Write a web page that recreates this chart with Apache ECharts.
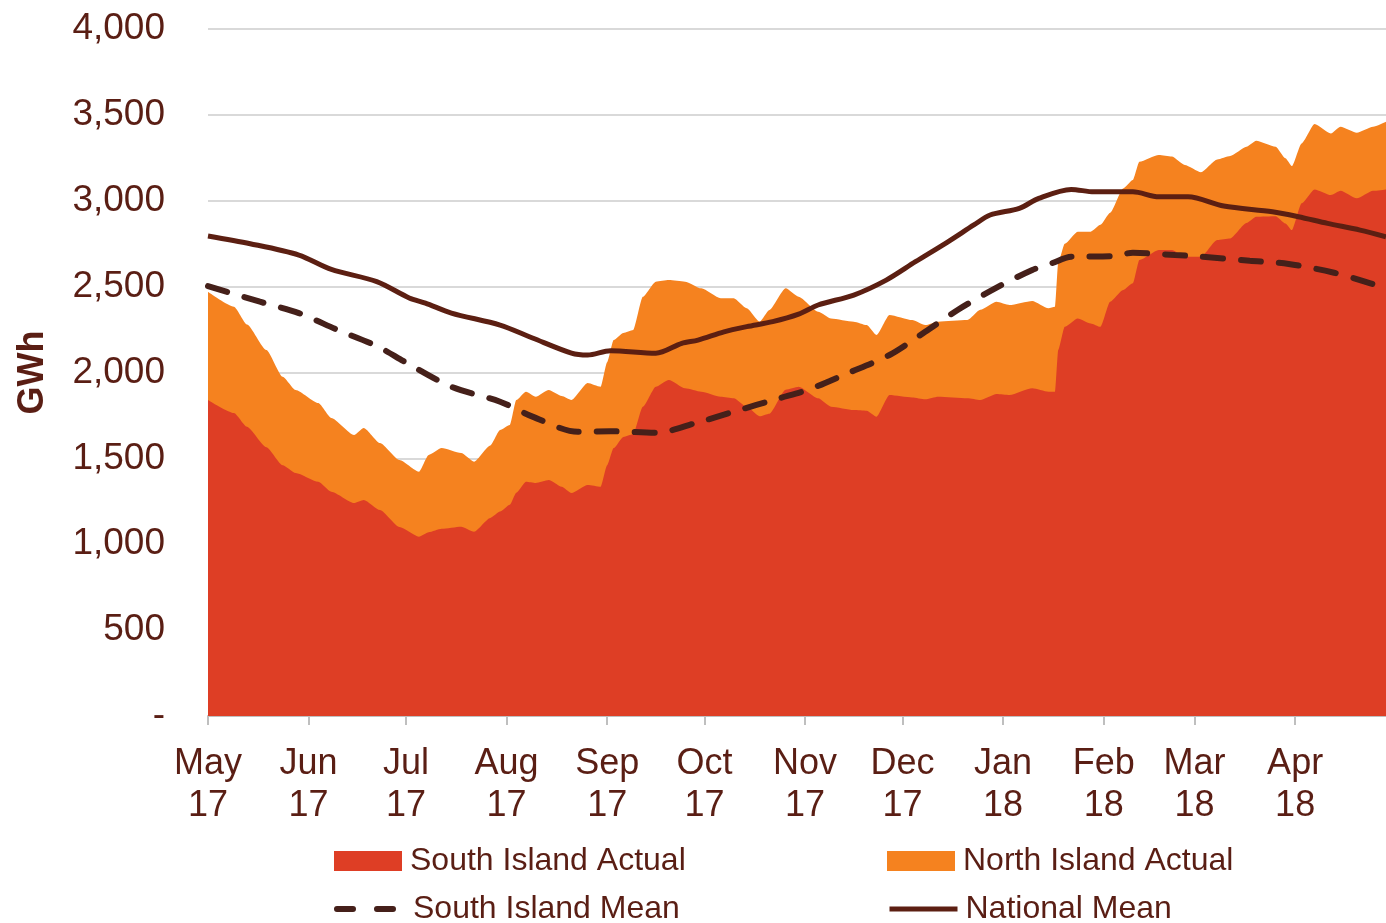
<!DOCTYPE html>
<html>
<head>
<meta charset="utf-8">
<script src="https://cdn.jsdelivr.net/npm/echarts@6/dist/echarts.min.js"></script>
<style>
  html, body { margin: 0; padding: 0; background: #fff; }
  #chart { width: 1386px; height: 923px; }
</style>
</head>
<body>
<div id="chart"></div>
<script>
// storage readings, GWh
const actualDates = [
  '2017-05-01','2017-05-09','2017-05-13','2017-05-19','2017-05-24','2017-05-28',
  '2017-06-04','2017-06-08','2017-06-15','2017-06-18','2017-06-23','2017-06-29',
  '2017-07-05','2017-07-08','2017-07-12','2017-07-18','2017-07-22','2017-07-27','2017-07-30',
  '2017-08-02','2017-08-04','2017-08-07','2017-08-10','2017-08-14','2017-08-18','2017-08-21','2017-08-26','2017-08-30',
  '2017-09-01','2017-09-03','2017-09-06','2017-09-09','2017-09-12','2017-09-16','2017-09-20','2017-09-25','2017-09-30',
  '2017-10-06','2017-10-10','2017-10-14','2017-10-18','2017-10-21','2017-10-26','2017-10-30',
  '2017-11-05','2017-11-09','2017-11-16','2017-11-20','2017-11-23','2017-11-27',
  '2017-12-04','2017-12-08','2017-12-12','2017-12-21','2017-12-25','2017-12-30',
  '2018-01-03','2018-01-10','2018-01-15','2018-01-17','2018-01-18','2018-01-20','2018-01-24','2018-01-28','2018-01-31',
  '2018-02-03','2018-02-07','2018-02-10','2018-02-12','2018-02-18','2018-02-22','2018-02-26',
  '2018-03-03','2018-03-08','2018-03-12','2018-03-17','2018-03-20','2018-03-26','2018-03-29','2018-03-31',
  '2018-04-03','2018-04-07','2018-04-12','2018-04-15','2018-04-20','2018-04-25','2018-04-29'
];
const southActual = [
  1840, 1764, 1684, 1565, 1460, 1415,
  1364, 1306, 1240, 1258, 1199, 1100,
  1044, 1070, 1090, 1102, 1073, 1153, 1190,
  1230, 1300, 1364, 1357, 1374, 1335, 1298, 1345, 1335,
  1460, 1560, 1625, 1640, 1800, 1917, 1956, 1908, 1888,
  1859, 1850, 1800, 1745, 1760, 1900, 1917,
  1850, 1801, 1782, 1778, 1743, 1869,
  1855, 1844, 1859, 1850, 1840, 1875,
  1869, 1908, 1888, 1888, 2131, 2266, 2315, 2286, 2266,
  2412, 2480, 2519, 2655, 2713, 2713, 2674,
  2674, 2771, 2780, 2870, 2907, 2910, 2868, 2829,
  2985, 3066, 3033, 3058, 3014, 3058, 3066
];
const northActual = [
  630, 619, 596, 566, 515, 483,
  458, 429, 396, 419, 390, 390,
  378, 450, 470, 429, 408, 422, 475,
  464, 540, 524, 502, 524, 528, 542, 594, 582,
  600, 629, 605, 607, 641, 612, 582, 621, 602,
  573, 582, 574, 551, 604, 590, 524,
  504, 514, 514, 498, 475, 466,
  450, 432, 437, 455, 525, 537,
  524, 509, 486, 495, 509, 484, 505, 534, 594,
  518, 592, 602, 572, 553, 544, 534,
  492, 469, 480, 444, 442, 404, 379, 373,
  349, 381, 359, 373, 382, 373, 394
];
const southMeanDates = [
  '2017-05-01','2017-05-17','2017-05-29','2017-06-10','2017-06-22','2017-07-01','2017-07-15',
  '2017-07-30','2017-08-09','2017-08-23','2017-09-02','2017-09-16','2017-09-28','2017-10-10',
  '2017-10-24','2017-11-02','2017-11-14','2017-11-27','2017-12-08','2017-12-18','2017-12-30',
  '2018-01-10','2018-01-16','2018-01-22','2018-02-04','2018-02-10','2018-02-23','2018-03-02',
  '2018-03-18','2018-03-30','2018-04-13','2018-04-21','2018-04-29'
];
const southMean = [
  2503, 2412, 2346, 2247, 2154, 2058, 1917,
  1830, 1743, 1655, 1658, 1649, 1704, 1772,
  1850, 1900, 1995, 2102, 2237, 2364, 2494,
  2597, 2636, 2674, 2678, 2697, 2684, 2676,
  2651, 2632, 2581, 2538, 2490
];
const nationalMeanDates = [
  '2017-05-01','2017-05-14','2017-05-29','2017-06-08','2017-06-22','2017-07-02','2017-07-07','2017-07-15',
  '2017-07-30','2017-08-09','2017-08-21','2017-08-26','2017-09-02','2017-09-16','2017-09-24','2017-09-29',
  '2017-10-07','2017-10-14','2017-10-22','2017-10-30','2017-11-05','2017-11-16','2017-11-26','2017-12-05',
  '2017-12-15','2017-12-23','2017-12-28','2018-01-06','2018-01-12','2018-01-22','2018-01-29','2018-02-10',
  '2018-02-18','2018-02-27','2018-03-10','2018-03-25','2018-04-02','2018-04-11','2018-04-21','2018-04-29'
];
const nationalMean = [
  2795, 2750, 2684, 2600, 2529, 2434, 2404, 2346,
  2276, 2201, 2113, 2102, 2127, 2112, 2170, 2189,
  2237, 2267, 2296, 2340, 2393, 2451, 2538, 2645,
  2761, 2859, 2917, 2956, 3014, 3066, 3052, 3052,
  3023, 3023, 2969, 2936, 2907, 2868, 2829, 2790
];
const monthLabels = ['May\n17','Jun\n17','Jul\n17','Aug\n17','Sep\n17','Oct\n17',
  'Nov\n17','Dec\n17','Jan\n18','Feb\n18','Mar\n18','Apr\n18'];

// x axis runs in days counted from 1 May 2017
const START = Date.UTC(2017, 4, 1);
const dayOf = (s) => Math.round((Date.parse(s + 'T00:00:00Z') - START) / 86400000);
const monthTicks = [];
for (let i = 0; i < 12; i++) {
  monthTicks.push(Math.round((Date.UTC(2017, 4 + i, 1) - START) / 86400000));
}
const pairs = (dates, vals) => dates.map((d, i) => [dayOf(d), vals[i]]);
// north island sits on top of the south island area
const totalActual = southActual.map((v, i) => v + northActual[i]);

const textColor = '#5a1e14';
const legendText = { color: textColor, fontSize: 32, fontFamily: 'Liberation Sans', lineHeight: 36, padding: [0, 0, 0, 3] };

function legendItem(name, left, top, extra) {
  return {
    left: left, top: top, padding: 0, itemWidth: 68, itemHeight: 20, itemGap: 0,
    textStyle: legendText,
    data: [Object.assign({ name: name }, extra || {})]
  };
}

var chart = echarts.init(document.getElementById('chart'));
var option = {
  animation: false,
  grid: { left: 208, right: 0, top: 29, bottom: 207 },
  legend: [
    legendItem('South Island Actual', 334, 843, { icon: 'rect' }),
    legendItem('North Island Actual', 887, 843, { icon: 'rect' }),
    legendItem('South Island Mean', 334, 891, { itemStyle: { opacity: 0 }, lineStyle: { width: 6, type: [16, 24], cap: 'round' } }),
    legendItem('National Mean', 887, 891, { itemStyle: { opacity: 0 }, lineStyle: { width: 5 } })
  ],
  xAxis: {
    type: 'value',
    min: 0,
    max: 363,
    axisLine: { lineStyle: { color: '#bfbfbf', width: 2 } },
    axisTick: { show: true, length: 9, lineStyle: { color: '#bfbfbf', width: 2 }, customValues: monthTicks },
    splitLine: { show: false },
    axisLabel: {
      customValues: monthTicks,
      color: textColor, fontSize: 36, fontFamily: 'Liberation Sans', lineHeight: 42, margin: 27,
      formatter: function (v) {
        var i = monthTicks.indexOf(v);
        return i >= 0 ? monthLabels[i] : '';
      }
    }
  },
  yAxis: {
    type: 'value',
    min: 0, max: 4000, interval: 500,
    name: 'GWh', nameLocation: 'middle', nameGap: 157, nameRotate: 90,
    nameTextStyle: { color: textColor, fontSize: 36, fontWeight: 'bold', fontFamily: 'Liberation Sans' },
    axisLine: { show: false },
    axisTick: { show: false },
    splitLine: { lineStyle: { color: '#d9d9d9', width: 2 } },
    axisLabel: {
      color: textColor, fontSize: 37, fontFamily: 'Liberation Sans', margin: 43,
      formatter: function (v) { return v === 0 ? '-' : v.toLocaleString('en-US'); }
    }
  },
  series: [
    {
      name: 'North Island Actual', type: 'line',
      data: pairs(actualDates, totalActual),
      symbol: 'none', smooth: 0.2, smoothMonotone: 'x', lineStyle: { width: 0 },
      itemStyle: { color: '#f5821f' },
      areaStyle: { color: '#f5821f', opacity: 1 }
    },
    {
      name: 'South Island Actual', type: 'line',
      data: pairs(actualDates, southActual),
      symbol: 'none', smooth: 0.2, smoothMonotone: 'x', lineStyle: { width: 0 },
      itemStyle: { color: '#de3e25' },
      areaStyle: { color: '#de3e25', opacity: 1 }
    },
    {
      name: 'South Island Mean', type: 'line',
      data: pairs(southMeanDates, southMean),
      symbol: 'none', smooth: 0.3,
      itemStyle: { color: '#45201a' },
      lineStyle: { color: '#45201a', width: 6, type: [20, 18], cap: 'round' }
    },
    {
      name: 'National Mean', type: 'line',
      data: pairs(nationalMeanDates, nationalMean),
      symbol: 'none', smooth: 0.3,
      itemStyle: { color: '#5c1f12' },
      lineStyle: { color: '#5c1f12', width: 5 }
    }
  ]
};
chart.setOption(option);
</script>
</body>
</html>
